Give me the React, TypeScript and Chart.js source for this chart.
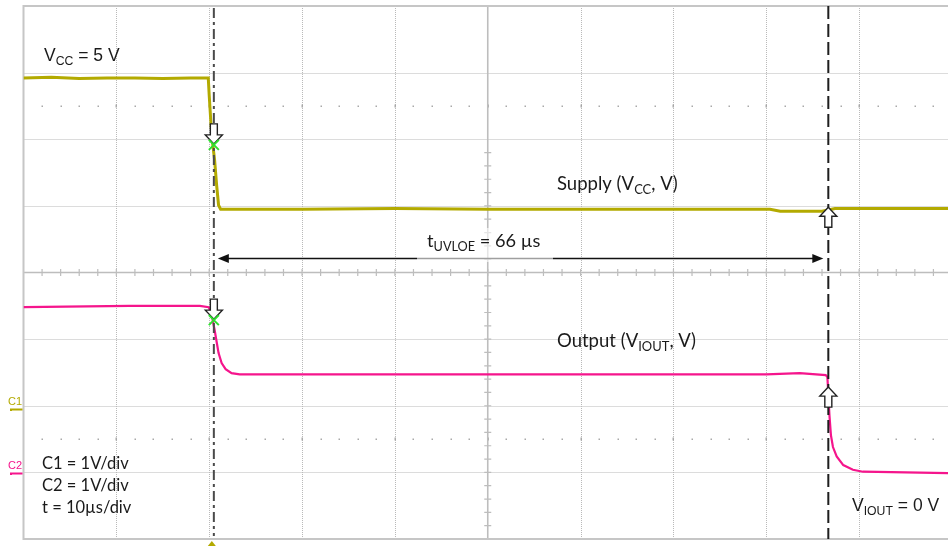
import React, { useEffect, useRef } from "react";
import { Chart, registerables } from "chart.js";
Chart.register(...registerables);

// time grid (µs) and volt grid (C1 scale, 1 V/div)
const timeGridUs = [0, 10, 20, 30, 40, 50, 60, 70, 80, 90];
const voltGridC1 = [-2, -1, 0, 1, 2, 3, 4, 5, 6];

// C1 : supply VCC (V) vs time (µs)
const c1Time = [0, 3, 6, 9, 12, 15, 18, 19.9, 20.0, 20.2, 20.37, 20.58, 20.8, 21.01, 21.23, 30, 40, 50, 60, 70, 80.4, 81.5, 86.0, 87.4, 99.6];
const c1Volts = [4.92, 4.93, 4.91, 4.92, 4.92, 4.91, 4.92, 4.92, 4.66, 4.21, 3.94, 3.69, 3.31, 3.01, 2.95, 2.95, 2.96, 2.95, 2.95, 2.95, 2.95, 2.92, 2.92, 2.96, 2.96];

// C2 : output VIOUT (V) vs time (µs)
const c2Time = [0, 11.4, 19.0, 19.94, 20.15, 20.37, 20.58, 20.8, 21.01, 21.34, 21.77, 22.41, 23.28, 40, 60, 80, 83.6, 86.4, 86.58, 86.69, 86.8, 86.96, 87.18, 87.58, 88.29, 89.33, 90.41, 99.6];
const c2Volts = [2.48, 2.5, 2.5, 2.48, 2.42, 2.29, 2.14, 1.96, 1.79, 1.64, 1.55, 1.49, 1.47, 1.47, 1.47, 1.47, 1.49, 1.46, 1.43, 1.16, 0.86, 0.56, 0.38, 0.24, 0.11, 0.04, 0.01, -0.01];

// cursors (µs)
const cursorA = 20.5;
const cursorB = 86.68;

const C1_COLOR = "#b3aa00";
const C2_COLOR = "#f5158c";
const FONT = "Lato, 'Open Sans', sans-serif";
const FONT2 = "'Liberation Sans', Arial, sans-serif";

type Part = { t: string; sub?: boolean };

function drawRich(ctx: CanvasRenderingContext2D, x: number, y: number, parts: Part[], size: number, family: string) {
  let cx = x;
  for (const p of parts) {
    const s = p.sub ? size * 0.7 : size;
    ctx.font = `${s}px ${family}`;
    ctx.fillText(p.t, cx, p.sub ? y + size * 0.22 : y);
    cx += ctx.measureText(p.t).width;
  }
  return cx - x;
}

function vArrow(ctx: CanvasRenderingContext2D, x: number, tipY: number, dir: number) {
  // dir = 1: pointing down (tip at bottom); dir = -1: pointing up
  const head = 9, stem = 11, hw = 8.5, sw = 3.5;
  const b = tipY - dir * head;
  const s = b - dir * stem;
  ctx.beginPath();
  ctx.moveTo(x, tipY);
  ctx.lineTo(x - hw, b);
  ctx.lineTo(x - sw, b);
  ctx.lineTo(x - sw, s);
  ctx.lineTo(x + sw, s);
  ctx.lineTo(x + sw, b);
  ctx.lineTo(x + hw, b);
  ctx.closePath();
  ctx.fillStyle = "#ffffff";
  ctx.fill();
  ctx.strokeStyle = "#222";
  ctx.lineWidth = 1.4;
  ctx.setLineDash([]);
  ctx.stroke();
}

function xMark(ctx: CanvasRenderingContext2D, x: number, y: number) {
  ctx.strokeStyle = "#2fe02f";
  ctx.lineWidth = 2;
  ctx.setLineDash([]);
  ctx.beginPath();
  ctx.moveTo(x - 5, y - 5);
  ctx.lineTo(x + 5, y + 5);
  ctx.moveTo(x + 5, y - 5);
  ctx.lineTo(x - 5, y + 5);
  ctx.stroke();
}

const scopePlugin = {
  id: "scope",
  beforeDatasetsDraw(chart: any) {
    const ctx: CanvasRenderingContext2D = chart.ctx;
    const { left, right, top, bottom } = chart.chartArea;
    const xs = chart.scales.x;
    const ys = chart.scales.y1;
    ctx.save();
    ctx.fillStyle = "#ffffff";
    ctx.fillRect(0, 0, chart.width, chart.height);
    // dotted major grid
    ctx.strokeStyle = "#b9b9b9";
    ctx.lineWidth = 1;
    ctx.setLineDash([1, 1]);
    for (const t of timeGridUs) {
      if (t === 0 || t === 50) continue;
      const x = Math.round(xs.getPixelForValue(t)) + 0.5;
      ctx.beginPath();
      ctx.moveTo(x, top);
      ctx.lineTo(x, bottom);
      ctx.stroke();
    }
    for (const v of voltGridC1) {
      if (v === -2 || v === 6 || v === 2) continue;
      const y = Math.round(ys.getPixelForValue(v)) + 0.5;
      ctx.beginPath();
      ctx.moveTo(left, y);
      ctx.lineTo(right, y);
      ctx.stroke();
    }
    ctx.setLineDash([]);
    // 2.5 div dotted rows
    ctx.fillStyle = "#a9a9a9";
    for (const v of [4.5, -0.5]) {
      const y = Math.round(ys.getPixelForValue(v));
      for (let i = 1; i < 50; i++) {
        const t = i * 2;
        const x = Math.round(xs.getPixelForValue(t));
        if (x > right) break;
        if (t % 10 === 0) ctx.fillRect(x - 0.5, y - 1.5, 1.5, 3);
        else ctx.fillRect(x - 0.5, y - 0.5, 1.5, 1.5);
      }
    }
    // center cross
    const cx = xs.getPixelForValue(50);
    const cy = ys.getPixelForValue(2);
    ctx.strokeStyle = "#bdbdbd";
    ctx.lineWidth = 1.6;
    ctx.beginPath();
    ctx.moveTo(cx, top);
    ctx.lineTo(cx, bottom);
    ctx.moveTo(left, cy);
    ctx.lineTo(right, cy);
    ctx.stroke();
    ctx.lineWidth = 1.2;
    ctx.beginPath();
    for (let i = 1; i < 50; i++) {
      const x = xs.getPixelForValue(i * 2);
      if (x > right) break;
      ctx.moveTo(x, cy - 3.5);
      ctx.lineTo(x, cy + 3.5);
    }
    for (let i = -9; i < 30; i++) {
      const y = ys.getPixelForValue(-2 + i * 0.2);
      if (y < top || y > bottom) continue;
      ctx.moveTo(cx - 3.5, y);
      ctx.lineTo(cx + 3.5, y);
    }
    ctx.stroke();
    // border
    ctx.strokeStyle = "#c6c6c6";
    ctx.lineWidth = 2;
    ctx.beginPath();
    ctx.moveTo(right, top);
    ctx.lineTo(left, top);
    ctx.lineTo(left, bottom);
    ctx.lineTo(right, bottom);
    ctx.stroke();
    ctx.restore();
  },
  afterDatasetsDraw(chart: any) {
    const ctx: CanvasRenderingContext2D = chart.ctx;
    const { left, top, bottom } = chart.chartArea;
    const xs = chart.scales.x;
    const y1 = chart.scales.y1;
    const y2 = chart.scales.y2;
    ctx.save();
    const xa = xs.getPixelForValue(cursorA);
    const xb = xs.getPixelForValue(cursorB);
    // cursor A dash-dot
    ctx.strokeStyle = "#4a4a4a";
    ctx.lineWidth = 2;
    ctx.setLineDash([10, 4, 3, 4]);
    ctx.beginPath();
    ctx.moveTo(xa, top + 2);
    ctx.lineTo(xa, bottom - 3);
    ctx.stroke();
    // cursor B dashed
    ctx.strokeStyle = "#1e1e1e";
    ctx.setLineDash([13, 5]);
    ctx.beginPath();
    ctx.moveTo(xb, top);
    ctx.lineTo(xb, bottom);
    ctx.stroke();
    ctx.setLineDash([]);

    // markers
    vArrow(ctx, xa, y1.getPixelForValue(3.93), 1);
    xMark(ctx, xa, y1.getPixelForValue(3.93) + 1);
    vArrow(ctx, xa, y2.getPixelForValue(2.3), 1);
    xMark(ctx, xa, y2.getPixelForValue(2.3) + 1);
    vArrow(ctx, xb, y1.getPixelForValue(2.98), -1);
    vArrow(ctx, xb, y2.getPixelForValue(1.28), -1);

    // double arrow
    const ay = 258.5;
    const ax1 = xa + 4, ax2 = xb - 5;
    ctx.strokeStyle = "#111";
    ctx.fillStyle = "#111";
    ctx.lineWidth = 1.5;
    ctx.beginPath();
    ctx.moveTo(ax1 + 6, ay);
    ctx.lineTo(ax2 - 6, ay);
    ctx.stroke();
    ctx.beginPath();
    ctx.moveTo(ax1, ay);
    ctx.lineTo(ax1 + 11, ay - 4.5);
    ctx.lineTo(ax1 + 11, ay + 4.5);
    ctx.closePath();
    ctx.moveTo(ax2, ay);
    ctx.lineTo(ax2 - 11, ay - 4.5);
    ctx.lineTo(ax2 - 11, ay + 4.5);
    ctx.closePath();
    ctx.fill();

    // translucent box behind the tUVLOE label
    ctx.fillStyle = "rgba(255,255,255,0.6)";
    ctx.fillRect(417, 228, 136, 34);

    ctx.fillStyle = "#1a1a1a";
    ctx.textBaseline = "alphabetic";
    drawRich(ctx, 44, 61, [{ t: "V" }, { t: "CC", sub: true }, { t: " = 5 V" }], 17.5, FONT2);
    drawRich(ctx, 557, 190, [{ t: "Supply (V" }, { t: "CC", sub: true }, { t: ", V)" }], 18.5, FONT);
    drawRich(ctx, 427, 247, [{ t: "t" }, { t: "UVLOE", sub: true }, { t: " = 66 µs" }], 18.2, FONT);
    drawRich(ctx, 557, 347, [{ t: "Output (V" }, { t: "IOUT", sub: true }, { t: ", V)" }], 18.5, FONT);
    drawRich(ctx, 42, 469, [{ t: "C1 = 1V/div" }], 16.5, FONT);
    drawRich(ctx, 42, 491, [{ t: "C2 = 1V/div" }], 16.5, FONT);
    drawRich(ctx, 42, 513, [{ t: "t = 10µs/div" }], 16.5, FONT);
    drawRich(ctx, 852, 511, [{ t: "V" }, { t: "IOUT", sub: true }, { t: " = 0 V" }], 17.5, FONT2);

    // channel labels
    ctx.font = `11px ${FONT2}`;
    ctx.fillStyle = C1_COLOR;
    ctx.fillText("C1", 8, 405);
    ctx.fillStyle = C2_COLOR;
    ctx.fillText("C2", 8, 469);
    ctx.lineWidth = 2;
    ctx.strokeStyle = C1_COLOR;
    ctx.beginPath();
    ctx.moveTo(11, 411);
    ctx.lineTo(11, 409.5);
    ctx.lineTo(left - 1, 409.5);
    ctx.stroke();
    ctx.strokeStyle = C2_COLOR;
    ctx.beginPath();
    ctx.moveTo(11, 475);
    ctx.lineTo(11, 473.5);
    ctx.lineTo(left - 1, 473.5);
    ctx.stroke();

    // trigger marker
    ctx.fillStyle = C1_COLOR;
    ctx.beginPath();
    ctx.moveTo(xa - 2, 541);
    ctx.lineTo(xa - 6, 546);
    ctx.lineTo(xa + 2, 546);
    ctx.closePath();
    ctx.fill();
    ctx.restore();
  },
};

export default function App() {
  const ref = useRef<HTMLCanvasElement | null>(null);
  useEffect(() => {
    if (!ref.current) return;
    const chart = new Chart(ref.current, {
      type: "line",
      data: {
        datasets: [
          {
            label: "Supply (VCC, V)",
            data: c1Time.map((t, i) => ({ x: t, y: c1Volts[i] })),
            borderColor: C1_COLOR,
            borderWidth: 3,
            pointRadius: 0,
            tension: 0,
            yAxisID: "y1",
          },
          {
            label: "Output (VIOUT, V)",
            data: c2Time.map((t, i) => ({ x: t, y: c2Volts[i] })),
            borderColor: C2_COLOR,
            borderWidth: 2.2,
            pointRadius: 0,
            tension: 0,
            yAxisID: "y2",
          },
        ],
      },
      options: {
        animation: false,
        responsive: false,
        events: [],
        layout: { padding: { left: 23.5, top: 6, right: 0, bottom: 7 } },
        plugins: { legend: { display: false }, tooltip: { enabled: false } },
        scales: {
          x: { type: "linear", min: 0, max: 99.57, display: false },
          y1: { type: "linear", min: -2, max: 6, display: false },
          y2: { type: "linear", min: -1, max: 7, display: false },
        },
      },
      plugins: [scopePlugin],
    });
    return () => chart.destroy();
  }, []);
  return (
    <div style={{ position: "absolute", left: 0, top: 0, width: 948, height: 546, background: "#fff" }}>
      <canvas ref={ref} width={948} height={546} style={{ display: "block", width: 948, height: 546 }} />
    </div>
  );
}
